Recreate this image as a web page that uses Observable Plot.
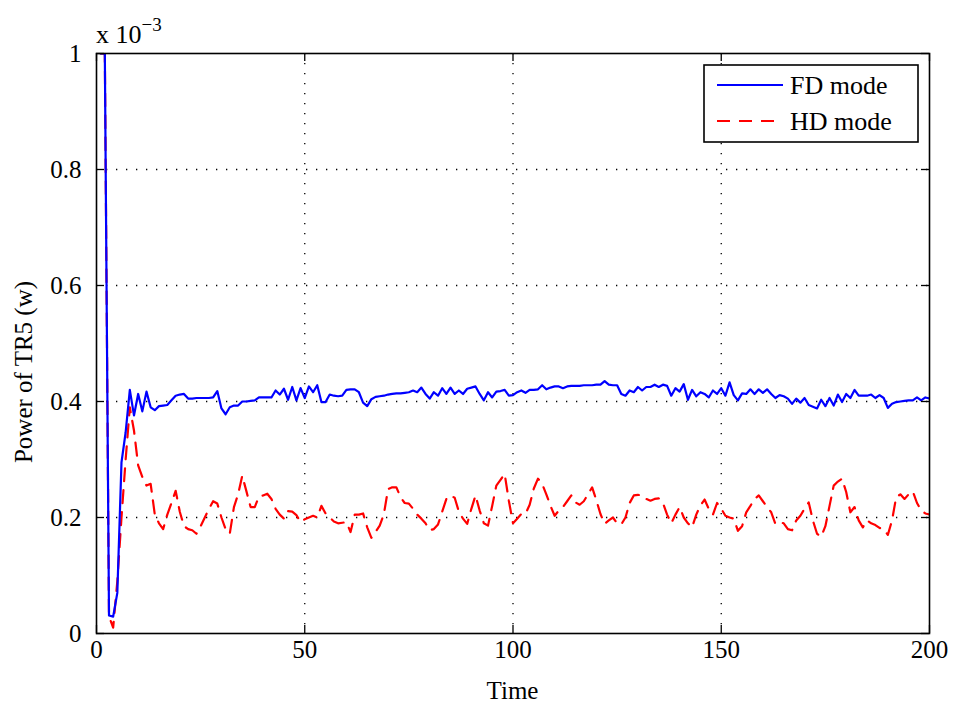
<!DOCTYPE html>
<html>
<head>
<meta charset="utf-8">
<script src="https://cdn.jsdelivr.net/npm/d3@7"></script>
<script src="https://cdn.jsdelivr.net/npm/@observablehq/plot@0.6"></script>
<style>
  html, body { margin: 0; padding: 0; background: #fff; }
  #wrap { position: relative; width: 956px; height: 709px; }
  #wrap text { font-family: 'Liberation Serif', serif !important; }
</style>
</head>
<body>
<div id="wrap"></div>
<script>
// Power of TR5, in units of 1e-3 W, at time steps 1..200
const fdPower = [
1.0,1.0,0.031,0.029,0.07,0.295,0.347,0.42,0.376,0.413,
0.383,0.417,0.39,0.385,0.392,0.393,0.394,0.402,0.41,0.412,
0.413,0.405,0.405,0.406,0.406,0.406,0.406,0.407,0.418,0.388,
0.378,0.39,0.393,0.393,0.4,0.4,0.401,0.402,0.407,0.407,
0.407,0.407,0.419,0.412,0.422,0.403,0.425,0.402,0.423,0.406,
0.426,0.416,0.428,0.399,0.399,0.412,0.41,0.409,0.41,0.42,
0.421,0.421,0.416,0.398,0.392,0.404,0.408,0.409,0.41,0.412,
0.413,0.414,0.414,0.415,0.416,0.419,0.416,0.424,0.413,0.405,
0.416,0.41,0.423,0.413,0.424,0.413,0.419,0.413,0.422,0.424,
0.426,0.413,0.402,0.416,0.407,0.417,0.418,0.42,0.41,0.411,
0.416,0.419,0.415,0.42,0.42,0.421,0.428,0.421,0.424,0.426,
0.426,0.423,0.426,0.427,0.427,0.427,0.428,0.428,0.428,0.429,
0.429,0.435,0.429,0.428,0.428,0.413,0.41,0.419,0.416,0.425,
0.419,0.425,0.425,0.429,0.425,0.429,0.427,0.41,0.423,0.417,
0.43,0.403,0.42,0.409,0.416,0.413,0.407,0.419,0.413,0.423,
0.41,0.433,0.411,0.402,0.414,0.413,0.421,0.413,0.421,0.415,
0.421,0.413,0.406,0.411,0.409,0.405,0.396,0.405,0.398,0.406,
0.394,0.391,0.388,0.403,0.392,0.406,0.393,0.412,0.399,0.413,
0.406,0.42,0.41,0.41,0.41,0.412,0.406,0.411,0.406,0.389,
0.396,0.399,0.4,0.401,0.402,0.402,0.407,0.402,0.407,0.405
];
const hdPower = [
1.0,1.0,0.03,0.01,0.09,0.2,0.3,0.39,0.35,0.29,
0.27,0.255,0.258,0.205,0.19,0.18,0.205,0.225,0.246,0.21,
0.185,0.18,0.178,0.172,0.185,0.2,0.215,0.228,0.224,0.2,
0.18,0.172,0.218,0.24,0.272,0.245,0.218,0.218,0.236,0.238,
0.241,0.232,0.215,0.205,0.198,0.211,0.21,0.204,0.192,0.197,
0.2,0.203,0.2,0.22,0.207,0.2,0.193,0.19,0.191,0.192,
0.175,0.205,0.205,0.207,0.183,0.165,0.175,0.186,0.206,0.249,
0.252,0.252,0.235,0.225,0.224,0.215,0.205,0.198,0.19,0.178,
0.18,0.188,0.21,0.232,0.238,0.234,0.21,0.198,0.189,0.215,
0.238,0.212,0.19,0.186,0.22,0.255,0.265,0.275,0.229,0.19,
0.198,0.206,0.206,0.222,0.25,0.267,0.258,0.24,0.22,0.203,
0.212,0.218,0.228,0.238,0.226,0.222,0.228,0.24,0.252,0.23,
0.206,0.189,0.195,0.2,0.19,0.188,0.2,0.225,0.238,0.239,
0.238,0.232,0.229,0.232,0.233,0.225,0.205,0.19,0.205,0.218,
0.2,0.19,0.183,0.205,0.221,0.231,0.215,0.205,0.225,0.215,
0.203,0.2,0.198,0.177,0.185,0.209,0.22,0.232,0.238,0.228,
0.218,0.209,0.189,0.192,0.19,0.18,0.178,0.195,0.203,0.215,
0.226,0.195,0.172,0.167,0.185,0.22,0.255,0.262,0.267,0.244,
0.209,0.218,0.195,0.183,0.195,0.19,0.187,0.182,0.18,0.17,
0.195,0.235,0.24,0.232,0.24,0.245,0.225,0.212,0.207,0.205
];
const xTicks = [0, 50, 100, 150, 200];
const yTicks = [0, 0.2, 0.4, 0.6, 0.8, 1];
const xGridLines = [50, 100, 150];
const yGridLines = [0.2, 0.4, 0.6, 0.8];
const seriesNames = ["FD mode", "HD mode"];
const xLabel = "Time";
const yLabel = "Power of TR5 (w)";

const fd = fdPower.map((v, i) => ({t: i + 1, v}));
const hd = hdPower.map((v, i) => ({t: i + 1, v}));

const FONT = "Liberation Serif";
const W = 956, H = 709, mL = 96, mR = 27, mT = 53, mB = 76;
const fw = W - mL - mR, fh = H - mT - mB, tk = 8;

const chart = Plot.plot({
  width: W, height: H,
  marginLeft: mL, marginRight: mR, marginTop: mT, marginBottom: mB,
  x: {domain: [0, 200]},
  y: {domain: [0, 1]},
  style: {fontFamily: FONT, fontSize: "25px", background: "white", color: "black"},
  marks: [
    Plot.gridX(xGridLines, {stroke: "black", strokeOpacity: 1, strokeWidth: 1.3, strokeDasharray: "1.3,8.7"}),
    Plot.gridY(yGridLines, {stroke: "black", strokeOpacity: 1, strokeWidth: 1.3, strokeDasharray: "1.3,8.7"}),
    Plot.line(hd, {x: "t", y: "v", stroke: "#ff0000", strokeWidth: 2.2, strokeDasharray: "13,9", clip: true}),
    Plot.line(fd, {x: "t", y: "v", stroke: "#0000ff", strokeWidth: 2.2, clip: true}),
    Plot.tickX(xTicks, {x: d => d, insetTop: fh - tk, stroke: "black", strokeWidth: 1.3}),
    Plot.tickX(xTicks, {x: d => d, insetBottom: fh - tk, stroke: "black", strokeWidth: 1.3}),
    Plot.tickY(yTicks, {y: d => d, insetRight: fw - tk, stroke: "black", strokeWidth: 1.3}),
    Plot.tickY(yTicks, {y: d => d, insetLeft: fw - tk, stroke: "black", strokeWidth: 1.3}),
    Plot.frame({stroke: "black", strokeWidth: 1.6}),
    Plot.axisX({ticks: xTicks, tickSize: 0, tickPadding: 7, label: null, tickFormat: d => String(d), fontFamily: FONT}),
    Plot.axisY({ticks: yTicks, tickSize: 0, tickPadding: 15, label: null, tickFormat: d => String(d), fontFamily: FONT})
  ]
});
chart.setAttribute("font-family", FONT);
chart.setAttribute("font-size", "25");
chart.style.position = "absolute";
chart.style.left = "0px";
chart.style.top = "0px";
chart.querySelectorAll("text").forEach(t => t.setAttribute("font-family", FONT));

const wrap = document.getElementById("wrap");
wrap.appendChild(chart);

// overlay SVG for labels and legend
const ns = "http://www.w3.org/2000/svg";
const ov = document.createElementNS(ns, "svg");
ov.setAttribute("width", W); ov.setAttribute("height", H);
ov.setAttribute("font-family", FONT);
ov.style.position = "absolute"; ov.style.left = "0px"; ov.style.top = "0px";
wrap.appendChild(ov);

function txt(parent, x, y, s, size, extra) {
  const t = document.createElementNS(ns, "text");
  t.setAttribute("x", x); t.setAttribute("y", y);
  t.setAttribute("font-family", FONT);
  t.setAttribute("font-size", size);
  t.setAttribute("fill", "black");
  if (extra) for (const k in extra) t.setAttribute(k, extra[k]);
  t.textContent = s;
  parent.appendChild(t);
  return t;
}

// exponent label  x 10^-3
const e = txt(ov, 96, 43, "x 10", 26);
const sup = document.createElementNS(ns, "tspan");
sup.setAttribute("dy", "-12"); sup.setAttribute("font-size", "19");
sup.textContent = "\u22123";
e.appendChild(sup);

// axis labels
txt(ov, mL + fw / 2, 699, xLabel, 25, {"text-anchor": "middle"});
txt(ov, 0, 0, yLabel, 25, {"text-anchor": "middle", "transform": "translate(32,372) rotate(-90)"});

// legend
const lg = document.createElementNS(ns, "g");
lg.setAttribute("transform", "translate(703,64)");
ov.appendChild(lg);
const box = document.createElementNS(ns, "rect");
box.setAttribute("x", 1); box.setAttribute("y", 1); box.setAttribute("width", 214); box.setAttribute("height", 77);
box.setAttribute("fill", "white"); box.setAttribute("stroke", "black"); box.setAttribute("stroke-width", 1.6);
lg.appendChild(box);
const styles = [{stroke: "#0000ff", dash: null}, {stroke: "#ff0000", dash: "13,9"}];
seriesNames.forEach((name, i) => {
  const cy = 21 + i * 36;
  const ln = document.createElementNS(ns, "line");
  ln.setAttribute("x1", 14); ln.setAttribute("x2", 80); ln.setAttribute("y1", cy); ln.setAttribute("y2", cy);
  ln.setAttribute("stroke", styles[i].stroke); ln.setAttribute("stroke-width", 2.2);
  if (styles[i].dash) ln.setAttribute("stroke-dasharray", styles[i].dash);
  lg.appendChild(ln);
  txt(lg, 87, cy + 9, name, 26);
});
</script>
</body>
</html>
